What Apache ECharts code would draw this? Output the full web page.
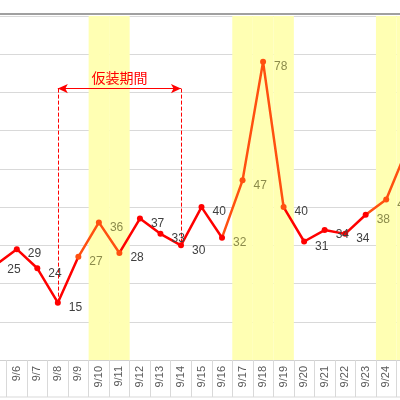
<!DOCTYPE html>
<html><head><meta charset="utf-8">
<script src="https://cdn.jsdelivr.net/npm/echarts@6/dist/echarts.min.js"></script>
<style>html,body{margin:0;padding:0;background:#fff;overflow:hidden}#c{position:absolute;left:-14px;top:0;width:431px;height:400px}</style>
</head><body><div id="c"></div>
<script>
var days = ['9/5','9/6','9/7','9/8','9/9','9/10','9/11','9/12','9/13','9/14','9/15','9/16','9/17','9/18','9/19','9/20','9/21','9/22','9/23','9/24','9/25'];
var visits = [25, 29, 24, 15, 27, 36, 28, 37, 33, 30, 40, 32, 47, 78, 40, 31, 34, 33, 38, 42, 55];
var labelText = ['25','29','24','15','27','36','28','37','33','30','40','32','47','78','40','31','34','34','38','42','55'];
var oliveLabels = ['9/9','9/10','9/16','9/17','9/18','9/23','9/24'];
var weekendDays = ['9/10','9/11','9/17','9/18','9/19','9/24','9/25'];
var eventStart = '9/8', eventEnd = '9/14', eventLevel = 71, eventName = '仮装期間';

var red = '#ff0000', orange = '#ff5010';
var chart = echarts.init(document.getElementById('c'), null, { renderer: 'canvas' });

var pts = visits.map(function(v, i) {
  var olive = oliveLabels.indexOf(days[i]) >= 0;
  return { value: v, label: { formatter: labelText[i], color: olive ? '#8b8b4b' : '#404040' } };
});
var bands = days.map(function(d) { return weekendDays.indexOf(d) >= 0 ? 90 : '-'; });

chart.setOption({
  animation: false,
  grid: { left: 0, right: 0, top: 16, bottom: 40, containLabel: false },
  xAxis: {
    type: 'category', data: days, boundaryGap: true,
    axisLine: { lineStyle: { color: '#d0d0d0' } },
    axisTick: { show: true, length: 37, lineStyle: { color: '#d9d9d9' } },
    axisLabel: { rotate: 90, color: '#595959', fontSize: 11, fontFamily: 'Liberation Sans', margin: 6 }
  },
  yAxis: {
    type: 'value', min: 0, max: 90, interval: 10,
    axisLabel: { show: false }, axisLine: { show: false }, axisTick: { show: false },
    splitLine: { lineStyle: { color: '#d9d9d9' } }
  },
  visualMap: {
    show: false, dimension: 0, seriesIndex: 1,
    pieces: [
      { gte: 4, lte: 6, color: orange },
      { gt: 11, lte: 14.4, color: orange },
      { gt: 18, lte: 20, color: orange }
    ],
    outOfRange: { color: red }
  },
  graphic: [
    { type: 'line', shape: { x1: 0, y1: 14, x2: 431, y2: 14 }, style: { stroke: '#808080', lineWidth: 1.5 }, z: 10 },
    { type: 'line', shape: { x1: 0, y1: 397, x2: 431, y2: 397 }, style: { stroke: '#d9d9d9', lineWidth: 1 } }
  ],
  series: [{
    type: 'bar', data: bands, barWidth: '100%', silent: true,
    itemStyle: { color: '#ffffb3' }, z: 1
  }, {
    type: 'line', data: pts, symbol: 'circle', symbolSize: 6,
    lineStyle: { width: 2.5 },
    label: { show: true, position: 'right', distance: 8, offset: [0, 5], fontSize: 12, fontFamily: 'Liberation Sans' },
    markLine: {
      silent: true, symbol: 'none',
      lineStyle: { color: '#ff0000', type: 'dashed', width: 1 },
      label: { show: false },
      data: [
        [{ coord: [eventStart, eventLevel] }, { coord: [eventStart, visits[days.indexOf(eventStart)]] }],
        [{ coord: [eventEnd, eventLevel] }, { coord: [eventEnd, visits[days.indexOf(eventEnd)]] }],
        [{ coord: [eventStart, eventLevel], symbol: 'arrow', symbolSize: [7, 10], lineStyle: { type: 'solid' },
           label: { show: true, position: 'middle', formatter: eventName, color: '#ff0000', fontSize: 14, fontFamily: 'Noto Sans CJK JP', distance: 4 } },
         { coord: [eventEnd, eventLevel], symbol: 'arrow', symbolSize: [7, 10] }]
      ]
    },
    z: 5
  }]
});
</script></body></html>
